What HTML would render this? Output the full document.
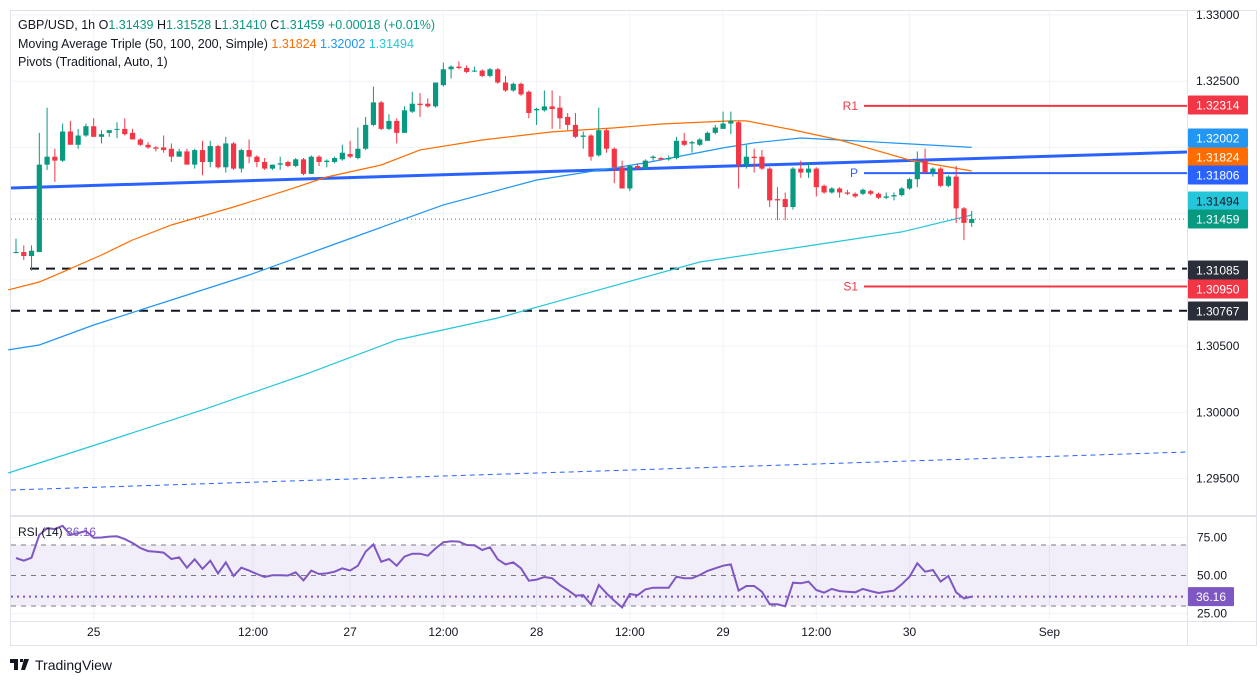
<!DOCTYPE html>
<html><head><meta charset="utf-8">
<style>
html,body{margin:0;padding:0;background:#fff;width:1260px;height:683px;overflow:hidden;font-family:"Liberation Sans",sans-serif;}
svg{position:absolute;left:0;top:0;}
text{font-family:"Liberation Sans",sans-serif;}
</style></head>
<body>
<svg id="chart" width="1260" height="683" xmlns="http://www.w3.org/2000/svg"></svg>
<script>
const opens=[1.3121,1.3121,1.3118,1.3121,1.3187,1.3193,1.3190,1.3212,1.3202,1.3209,
1.3216,1.3208,1.3211,1.3214,1.3214,1.3211,1.3206,1.3202,1.3200,1.3200,
1.3199,1.3193,1.3197,1.3187,1.3198,1.3189,1.3201,1.3185,1.3203,1.3184,
1.3198,1.3193,1.3189,1.3184,1.3187,1.3189,1.3186,1.3191,1.3180,1.3193,
1.3189,1.3189,1.3191,1.3195,1.3192,1.3199,1.3217,1.3234,1.3214,1.3220,
1.3211,1.3227,1.3233,1.3233,1.3231,1.3247,1.3259,1.3261,1.3260,1.3258,
1.3258,1.3254,1.3259,1.3249,1.3243,1.3248,1.3242,1.3228,1.3228,1.3231,
1.3230,1.3223,1.3217,1.3208,1.3209,1.3194,1.3213,1.3199,1.3185,1.3169,
1.3186,1.3184,1.3192,1.3192,1.3191,1.3192,1.3205,1.3203,1.3202,1.3205,
1.3211,1.3214,1.3218,1.3219,1.3187,1.3193,1.3193,1.3184,1.3161,1.3161,
1.3155,1.3184,1.3181,1.3184,1.3171,1.3166,1.3169,1.3166,1.3165,1.3165,
1.3167,1.3165,1.3162,1.3163,1.3164,1.3169,1.3176,1.3190,1.3181,1.3184,
1.3171,1.3178,1.3154,1.3143];
const closes=[1.3121,1.3118,1.3122,1.3187,1.3193,1.3190,1.3212,1.3202,1.3209,1.3216,
1.3208,1.3210,1.3213,1.3214,1.3210,1.3206,1.3202,1.3200,1.3199,1.3198,
1.3193,1.3197,1.3187,1.3198,1.3189,1.3201,1.3185,1.3203,1.3184,1.3198,
1.3193,1.3189,1.3184,1.3187,1.3188,1.3186,1.3191,1.3180,1.3193,1.3189,
1.3190,1.3192,1.3196,1.3193,1.3199,1.3217,1.3234,1.3214,1.3220,1.3211,
1.3228,1.3233,1.3232,1.3231,1.3249,1.3259,1.3261,1.3260,1.3257,1.3258,
1.3254,1.3259,1.3249,1.3243,1.3248,1.3240,1.3226,1.3229,1.3231,1.3229,
1.3222,1.3217,1.3208,1.3209,1.3193,1.3213,1.3199,1.3185,1.3169,1.3186,
1.3184,1.3190,1.3193,1.3191,1.3192,1.3205,1.3202,1.3204,1.3206,1.3211,
1.3215,1.3218,1.3220,1.3187,1.3193,1.3192,1.3184,1.3160,1.3160,1.3155,
1.3184,1.3181,1.3184,1.3170,1.3166,1.3169,1.3166,1.3165,1.3163,1.3168,
1.3165,1.3162,1.3163,1.3164,1.3169,1.3176,1.3189,1.3181,1.3184,1.3171,
1.3178,1.3154,1.3143,1.3146];
const highs=[1.3131,1.3126,1.3126,1.3211,1.3230,1.3199,1.3218,1.3220,1.3214,1.3218,
1.3222,1.3213,1.3213,1.3219,1.3222,1.3214,1.3207,1.3204,1.3201,1.3209,
1.3203,1.3199,1.3199,1.3199,1.3205,1.3205,1.3202,1.3208,1.3204,1.3199,
1.3206,1.3194,1.3192,1.3187,1.3193,1.3190,1.3192,1.3192,1.3194,1.3194,
1.3191,1.3193,1.3202,1.3205,1.3215,1.3223,1.3246,1.3235,1.3225,1.3222,
1.3231,1.3242,1.3241,1.3237,1.3249,1.3264,1.3262,1.3265,1.3262,1.3261,
1.3259,1.3260,1.3260,1.3254,1.3249,1.3249,1.3243,1.3230,1.3243,1.3243,
1.3239,1.3226,1.3226,1.3212,1.3210,1.3230,1.3214,1.3200,1.3190,1.3187,
1.3188,1.3191,1.3194,1.3193,1.3194,1.3208,1.3211,1.3205,1.3207,1.3212,
1.3217,1.3227,1.3227,1.3220,1.3202,1.3199,1.3198,1.3185,1.3170,1.3166,
1.3185,1.3190,1.3189,1.3185,1.3172,1.3170,1.3170,1.3168,1.3166,1.3169,
1.3168,1.3166,1.3166,1.3166,1.3170,1.3177,1.3197,1.3199,1.3185,1.3185,
1.3179,1.3186,1.3155,1.3152];
const lows=[1.3120,1.3115,1.3107,1.3121,1.3183,1.3174,1.3189,1.3202,1.3199,1.3208,
1.3208,1.3203,1.3208,1.3207,1.3209,1.3206,1.3201,1.3199,1.3197,1.3196,
1.3189,1.3193,1.3187,1.3184,1.3179,1.3185,1.3184,1.3181,1.3183,1.3181,
1.3188,1.3185,1.3183,1.3183,1.3183,1.3185,1.3185,1.3179,1.3180,1.3186,
1.3185,1.3188,1.3190,1.3192,1.3191,1.3198,1.3216,1.3213,1.3213,1.3203,
1.3211,1.3226,1.3223,1.3230,1.3230,1.3246,1.3252,1.3259,1.3256,1.3257,
1.3253,1.3253,1.3248,1.3242,1.3242,1.3239,1.3222,1.3217,1.3227,1.3214,
1.3214,1.3213,1.3207,1.3199,1.3190,1.3193,1.3196,1.3173,1.3169,1.3167,
1.3183,1.3183,1.3190,1.3190,1.3190,1.3191,1.3201,1.3196,1.3201,1.3205,
1.3210,1.3214,1.3210,1.3169,1.3184,1.3181,1.3183,1.3155,1.3145,1.3145,
1.3153,1.3177,1.3177,1.3163,1.3165,1.3165,1.3162,1.3164,1.3162,1.3164,
1.3164,1.3161,1.3161,1.3160,1.3163,1.3168,1.3170,1.3181,1.3178,1.3170,
1.3170,1.3143,1.3130,1.3140];
const rsiValues=[61.5,59.7,61.7,76.6,81,80.5,82.6,76.6,77.8,79.2,
74.8,74.9,75.5,75.7,73.9,71.3,68,66,65.6,65,
60.8,61.9,55.1,60.6,54.3,59.7,51.4,58.6,49.7,55.1,
53.2,51,49,50.1,50.1,50,52.1,46.8,53.2,51,
51.4,52.5,54.7,53.2,56.4,65.6,70.4,59,60.8,56.4,
62.4,64.3,64.3,63,67.8,71.8,72.4,72.2,70,69.8,
66.7,68.5,60.6,57.3,58.6,54.7,46.6,47.3,49,48.2,
43.8,40.5,36.8,37.1,31.1,43.8,38.3,33.5,29.1,37.9,
37.1,40.9,42,42,42,49.2,48.2,48.2,50.3,53,
54.7,56.4,57.3,40.1,43.1,43.1,39.4,31.1,31.1,29.8,
45.3,44.9,46,40.5,38.7,41.2,39.8,39.4,39,41.2,
39.8,38.5,39.4,40.1,44.2,49.2,58,52.5,53.6,46,
49.7,39,35,36.16];
const ma50Idx=[-1,3,6,11,15,20,28,35,40,47,52,60,69,77,83,92,94,100,106,115,123];
const ma50Val=[1.30924,1.30984,1.31059,1.31188,1.31301,1.31414,1.31550,1.31679,1.31777,1.31867,1.31981,1.32056,1.32117,1.32147,1.32177,1.32200,1.32200,1.32132,1.32056,1.31905,1.31822];
const ma100Idx=[-1,3,10,20,30,40,55,67,81,91,95,101,106,123];
const ma100Val=[1.30471,1.30508,1.30659,1.30848,1.31037,1.31248,1.31566,1.31754,1.31883,1.31996,1.32034,1.32071,1.32056,1.32000];
const ma200Idx=[-1,11,24,37,49,62,75,88,101,114,123];
const ma200Val=[1.29542,1.29768,1.30018,1.30282,1.30546,1.30712,1.30924,1.31135,1.31248,1.31362,1.31490];
const priceTicks=[1.33,1.325,1.305,1.30,1.295];
const rsiTicks=[75,50,25];
const timeLabels=["25","12:00","27","12:00","28","12:00","29","12:00","30","Sep"];
const timeIdx=[10,30.5,43,55,67,79,91,103,115,133];

const svg=document.getElementById('chart');
const NS='http://www.w3.org/2000/svg';
function px(p){return (1.33113-p)/0.0000755;}
function bx(i){return 16+i*7.77;}
function ry(v){return 545+(70-v)*1.525;}
function mk(tag,attrs,parent){const e=document.createElementNS(NS,tag);for(const k in attrs)e.setAttribute(k,attrs[k]);(parent||svg).appendChild(e);return e;}
function txt(x,y,s,attrs,parent){const e=mk('text',Object.assign({x:x,y:y,'font-size':12,fill:'#131722'},attrs),parent);e.textContent=s;return e;}

// frame
const frame=mk('rect',{x:10.5,y:10.5,width:1246,height:635,fill:'none',stroke:'#e0e3eb'});


const grid=mk('g',{});


[1.33,1.325,1.32,1.315,1.31,1.305,1.30,1.295].forEach(p=>{mk('line',{x1:11,x2:1187,y1:px(p),y2:px(p),stroke:'#f0f3fa'},grid);});
timeIdx.forEach(i=>{mk('line',{x1:bx(i),x2:bx(i),y1:11,y2:621,stroke:'#f0f3fa'},grid);});
[ry(75),ry(25)].forEach(y=>mk('line',{x1:11,x2:1187,y1:y,y2:y,stroke:'#f0f3fa'},grid));
// pane separators
const sep1=mk('line',{x1:11,x2:1256,y1:516,y2:516,stroke:'#e0e3eb',"stroke-width":2});


mk('line',{x1:1187.5,x2:1187.5,y1:11,y2:645,stroke:'#e0e3eb'});
mk('line',{x1:11,x2:1256,y1:621.5,y2:621.5,stroke:'#e0e3eb'});

// drawings
const trend=mk('line',{x1:11,y1:188,x2:1187,y2:152,stroke:'#2962ff','stroke-width':3});


const dtrend=mk('line',{x1:11,y1:490,x2:1187,y2:452,stroke:'#2962ff','stroke-width':1,'stroke-dasharray':'5,4'});


const h1=mk('line',{x1:30,y1:px(1.31085),x2:1187,y2:px(1.31085),stroke:'#131722','stroke-width':2,'stroke-dasharray':'9,7'});


const h2=mk('line',{x1:11,y1:px(1.30767),x2:1187,y2:px(1.30767),stroke:'#131722','stroke-width':2,'stroke-dasharray':'9,7'});


const lastLine=mk('line',{x1:11,y1:px(1.31459),x2:1187,y2:px(1.31459),stroke:'#089981','stroke-width':1,'stroke-dasharray':'1,3'});


// pivots
[[1.32314,'R1','#f23645','pivot-r1'],[1.31806,'P','#2962ff','pivot-p'],[1.30950,'S1','#f23645','pivot-s1']].forEach(d=>{
  const g=mk('g',{});
  
  
  mk('line',{x1:864,x2:1187,y1:px(d[0]),y2:px(d[0]),stroke:d[2],'stroke-width':2},g);
  txt(858,px(d[0])+4,d[1],{fill:d[2],'font-size':12,'text-anchor':'end'},g);
});

// MAs
function maLine(idx,val,color,name){
  const pts=idx.map((i,k)=>bx(i).toFixed(1)+','+px(val[k]).toFixed(1)).join(' ');
  const l=mk('polyline',{points:pts,fill:'none',stroke:color,'stroke-width':1.2});
  
  
}
maLine(ma200Idx,ma200Val,'#26c6da','ma-200');
maLine(ma100Idx,ma100Val,'#2196f3','ma-100');
maLine(ma50Idx,ma50Val,'#ff6d00','ma-50');

// candles
const cg=mk('g',{});


closes.forEach((c,i)=>{
  const o=opens[i],col=c>=o?'#089981':'#f23645',x=bx(i);
  const g=mk('g',{},cg);
  
  
  mk('line',{x1:x,x2:x,y1:px(highs[i]),y2:px(lows[i]),stroke:col,'stroke-width':1},g);
  const t=Math.min(px(o),px(c)),h=Math.max(1,Math.abs(px(o)-px(c)));
  mk('rect',{x:x-2.6,y:t,width:5.2,height:h,fill:col},g);
});

// RSI
const rg=mk('g',{});


mk('rect',{x:11,y:ry(70),width:1176,height:ry(30)-ry(70),fill:'#7e57c2','fill-opacity':0.1},rg);
[70,50,30].forEach(v=>mk('line',{x1:11,x2:1187,y1:ry(v),y2:ry(v),stroke:'#787b86','stroke-dasharray':'5,5'},rg));
mk('line',{x1:11,x2:1187,y1:ry(36.16),y2:ry(36.16),stroke:'#7e57c2','stroke-width':2,'stroke-dasharray':'2,4'},rg);
const rl=mk('polyline',{points:rsiValues.map((v,i)=>bx(i).toFixed(1)+','+ry(v).toFixed(1)).join(' '),fill:'none',stroke:'#7e57c2','stroke-width':2},rg);


const rlab=txt(18,536,'RSI (14) ',{'font-size':12,fill:'#131722'},rg);
const rv=mk('tspan',{fill:'#7e57c2'},rlab);rv.textContent='36.16';

// price axis
const pa=mk('g',{});


priceTicks.forEach(p=>txt(1196,px(p)+4,p.toFixed(5),{'font-size':12},pa));
[[1.32314,105,'#f23645','#fff'],[1.32002,138,'#2196f3','#fff'],[1.31824,157,'#ff6d00','#fff'],[1.31806,175,'#2962ff','#fff'],[1.31494,201,'#26c6da','#131722'],[1.31459,219,'#089981','#fff'],[1.31085,270,'#2a2e39','#fff'],[1.30950,289,'#f23645','#fff'],[1.30767,311,'#2a2e39','#fff']].forEach(d=>{
  const g=mk('g',{},pa);
  
  
  mk('rect',{x:1188,y:d[1]-9.5,width:60,height:19,fill:d[2],rx:1},g);
  txt(1196,d[1]+4.5,d[0].toFixed(5),{'font-size':12,fill:d[3]},g);
});
// rsi axis
rsiTicks.forEach(v=>txt(1197,ry(v)+4,v.toFixed(2),{'font-size':12},pa));
mk('rect',{x:1188,y:ry(36.16)-9.5,width:46,height:19,fill:'#7e57c2',rx:1},pa);
txt(1196,ry(36.16)+4.5,'36.16',{'font-size':12,fill:'#fff'},pa);

// time axis
const ta=mk('g',{});


timeLabels.forEach((s,k)=>txt(bx(timeIdx[k]),636,s,{'font-size':12,'text-anchor':'middle'},ta));

// header legend
const hg=mk('g',{});


function line(y,parts){const t=txt(18,y,'',{'font-size':12.5,fill:'#131722'},hg);parts.forEach(p=>{const s=mk('tspan',{fill:p[1]},t);s.textContent=p[0];});}
line(29,[['GBP/USD, 1h  O','#131722'],['1.31439','#089981'],['  H','#131722'],['1.31528','#089981'],['  L','#131722'],['1.31410','#089981'],['  C','#131722'],['1.31459','#089981'],['  +0.00018 (+0.01%)','#089981']]);
line(48,[['Moving Average Triple (50, 100, 200, Simple)  ','#131722'],['1.31824','#ff6d00'],['  1.32002','#2196f3'],['  1.31494','#26c6da']]);
line(66,[['Pivots (Traditional, Auto, 1)','#131722']]);

// footer logo
const fg=mk('g',{});


mk('path',{d:'M10 659h8v11h-4v-7h-4z M20 659h3v3h-3z M24 659h5l-4 11h-4z',fill:'#131722'},fg);
txt(35,670,'TradingView',{'font-size':14,fill:'#131722'},fg);
</script>
</body></html>
